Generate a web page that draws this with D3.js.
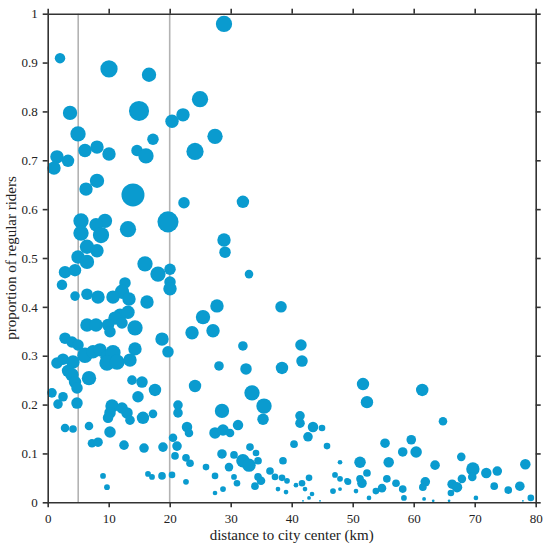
<!DOCTYPE html>
<html>
<head>
<meta charset="utf-8">
<script src="https://cdnjs.cloudflare.com/ajax/libs/d3/7.8.5/d3.min.js"></script>
<style>
  body { margin: 0; background: #fff; }
  text { font-family: "Liberation Serif", "Times New Roman", serif; fill: #222; }
  .axis path, .axis line { stroke: #333; stroke-width: 1.6px; }
  .axis text { font-size: 13px; font-family: "Liberation Serif", "Times New Roman", serif; fill: #222; }
</style>
</head>
<body>
<script>
// distance to city center (km)
const distance = [
  2.02, 10.05, 16.61, 3.66, 14.97, 4.97, 20.38, 22.18, 24.97, 17.26,
  1.52, 3.33, 1.03, 6.11, 8.08, 10.05, 14.64, 16.11, 24.15, 28.9,
  27.43, 8.08, 6.28, 13.98, 22.34, 5.46, 9.39, 7.92, 19.72, 13.16,
  5.46, 8.74, 6.44, 8.08, 4.97, 6.44, 2.84, 4.48, 2.34, 15.95,
  18.08, 20.05, 20.05, 20.05, 12.67, 12.18, 4.48, 6.44, 8.25, 10.7,
  13.33, 16.28, 32.0, 28.9, 29.07, 33.0, 27.75, 25.46, 23.66, 27.1,
  38.25, 32.0, 41.52, 11.85, 13.16, 11.03, 6.44, 7.92, 9.89, 12.18,
  14.31, 10.21, 18.74, 19.72, 2.84, 3.98, 4.97, 6.11, 7.43, 8.57,
  9.72, 10.7, 9.72, 11.36, 14.31, 13.49, 1.52, 2.51, 4.15, 3.33,
  3.98, 4.48, 6.77, 4.8, 13.82, 15.46, 17.59, 14.8, 24.15, 0.7,
  2.51, 1.69, 4.8, 10.54, 10.21, 12.18, 13.0, 13.49, 9.89, 15.62,
  17.26, 21.36, 21.36, 22.84, 23.16, 20.54, 21.2, 20.87, 22.67, 23.33,
  25.95, 2.84, 4.15, 6.77, 10.21, 7.26, 8.25, 12.51, 15.79, 18.9,
  9.07, 9.72, 16.44, 17.1, 18.74, 20.38, 22.67, 28.08, 32.51, 38.41,
  41.69, 33.49, 35.46, 35.3, 28.57, 27.43, 28.74, 29.89, 31.2, 41.36,
  41.36, 43.49, 44.97, 42.67, 40.38, 45.79, 28.57, 30.54, 33.16, 34.15,
  34.48, 32.0, 33.0, 38.57, 29.72, 27.43, 30.54, 31.03, 34.48, 34.97,
  33.98, 36.44, 37.26, 38.41, 39.23, 37.75, 39.07, 40.7, 41.69, 42.84,
  42.18, 43.33, 42.84, 47.1, 47.92, 46.77, 47.92, 49.07, 47.92, 28.74,
  27.43, 44.64, 41.85, 51.69, 52.34, 61.4, 64.8, 55.3, 59.6, 58.2,
  60.4, 67.8, 55.9, 51.2, 63.5, 69.7, 69.6, 71.9, 73.7, 78.3,
  52.34, 51.52, 55.6, 57.1, 58.2, 54.8, 53.8, 61.9, 61.5, 66.3,
  67.1, 67.9, 66.1, 73.2, 75.5, 77.4, 52.67, 58.4, 61.7, 63.2,
  65.8, 70.2, 79.2, 77.9, 49.23, 50.54, 51.2
];

// proportion of regular riders
const share = [
  0.909, 0.887, 0.875, 0.797, 0.801, 0.754, 0.78, 0.793, 0.825, 0.743,
  0.707, 0.699, 0.684, 0.72, 0.727, 0.713, 0.72, 0.709, 0.718, 0.979,
  0.749, 0.658, 0.641, 0.629, 0.613, 0.576, 0.576, 0.568, 0.574, 0.559,
  0.551, 0.547, 0.523, 0.515, 0.502, 0.492, 0.471, 0.475, 0.445, 0.488,
  0.467, 0.477, 0.451, 0.437, 0.449, 0.431, 0.422, 0.426, 0.42, 0.42,
  0.416, 0.41, 0.615, 0.537, 0.512, 0.467, 0.402, 0.379, 0.347, 0.351,
  0.4, 0.32, 0.322, 0.383, 0.389, 0.377, 0.363, 0.363, 0.363, 0.367,
  0.357, 0.349, 0.334, 0.308, 0.336, 0.328, 0.322, 0.301, 0.308, 0.312,
  0.297, 0.306, 0.285, 0.287, 0.314, 0.291, 0.285, 0.293, 0.287, 0.269,
  0.261, 0.246, 0.254, 0.234, 0.25, 0.246, 0.23, 0.216, 0.238, 0.224,
  0.216, 0.201, 0.203, 0.197, 0.183, 0.193, 0.183, 0.168, 0.173, 0.173,
  0.181, 0.199, 0.183, 0.154, 0.142, 0.132, 0.115, 0.095, 0.091, 0.08,
  0.072, 0.152, 0.15, 0.156, 0.144, 0.121, 0.123, 0.117, 0.111, 0.113,
  0.054, 0.031, 0.058, 0.052, 0.054, 0.056, 0.042, 0.279, 0.273, 0.275,
  0.289, 0.224, 0.197, 0.17, 0.187, 0.142, 0.148, 0.142, 0.158, 0.177,
  0.162, 0.154, 0.152, 0.134, 0.119, 0.115, 0.099, 0.097, 0.113, 0.101,
  0.085, 0.085, 0.076, 0.085, 0.072, 0.054, 0.052, 0.039, 0.052, 0.044,
  0.033, 0.064, 0.052, 0.05, 0.044, 0.027, 0.021, 0.035, 0.039, 0.05,
  0.027, 0.017, 0.009, 0.056, 0.048, 0.023, 0.027, 0.044, 0.082, 0.027,
  0.019, 0.003, 0.003, 0.242, 0.205, 0.23, 0.166, 0.121, 0.128, 0.103,
  0.103, 0.093, 0.082, 0.082, 0.076, 0.068, 0.052, 0.06, 0.064, 0.078,
  0.06, 0.039, 0.048, 0.039, 0.027, 0.029, 0.023, 0.042, 0.031, 0.037,
  0.031, 0.048, 0.019, 0.033, 0.025, 0.033, 0.009, 0.009, 0.007, 0.003,
  0.003, 0.009, 0.009, 0.003, 0.042, 0.023, 0.048
];

// number of riders (bubble size)
const riders = [
  30, 81, 56, 56, 110, 64, 49, 49, 72, 36,
  49, 42, 49, 49, 49, 49, 36, 64, 81, 72,
  64, 56, 49, 144, 36, 64, 56, 49, 121, 72,
  64, 72, 56, 49, 49, 56, 42, 42, 30, 64,
  64, 36, 36, 49, 36, 56, 25, 36, 49, 49,
  49, 49, 42, 49, 36, 20, 49, 56, 49, 49,
  36, 25, 36, 49, 49, 49, 49, 49, 42, 36,
  64, 36, 49, 36, 36, 36, 36, 64, 49, 49,
  49, 64, 64, 64, 49, 49, 36, 36, 49, 42,
  49, 42, 56, 36, 25, 36, 42, 36, 42, 25,
  25, 25, 36, 49, 36, 36, 36, 25, 30, 42,
  20, 25, 25, 30, 20, 20, 25, 16, 16, 16,
  12, 20, 16, 20, 36, 20, 25, 25, 25, 25,
  9, 9, 9, 9, 16, 12, 9, 25, 36, 42,
  36, 64, 64, 36, 56, 36, 36, 20, 30, 25,
  25, 30, 12, 25, 16, 12, 25, 16, 16, 12,
  16, 49, 49, 16, 20, 12, 9, 12, 16, 20,
  16, 16, 12, 12, 9, 6, 6, 6, 12, 12,
  6, 6, 4, 9, 9, 9, 4, 9, 6, 9,
  6, 1, 1, 42, 42, 42, 20, 25, 25, 25,
  36, 20, 30, 36, 25, 49, 20, 30, 25, 30,
  16, 25, 16, 16, 16, 20, 12, 25, 16, 25,
  30, 20, 12, 16, 16, 25, 6, 9, 4, 2,
  2, 6, 12, 1, 12, 6, 16
];

const xTicks = [0, 10, 20, 30, 40, 50, 60, 70, 80];
const yTicks = [0, 0.1, 0.2, 0.3, 0.4, 0.5, 0.6, 0.7, 0.8, 0.9, 1];
const refLines = [5, 20];

const data = distance.map((d, i) => ({ x: d, y: share[i], n: riders[i] }));

const W = 549, H = 550;
const m = { top: 13.7, right: 13.3, bottom: 47.7, left: 47.7 };
const w = W - m.left - m.right;
const h = H - m.top - m.bottom;

const svg = d3.select("body").append("svg")
  .attr("width", W)
  .attr("height", H);

const g = svg.append("g")
  .attr("transform", "translate(" + m.left + "," + m.top + ")");

const x = d3.scaleLinear().domain([0, 80]).range([0, w]);
const y = d3.scaleLinear().domain([0, 1]).range([h, 0]);
const r = d3.scaleSqrt().domain([0, 144]).range([0, 11.5]);

// reference lines
g.selectAll(".ref")
  .data(refLines)
  .enter()
  .append("line")
  .attr("class", "ref")
  .attr("x1", d => x(d))
  .attr("x2", d => x(d))
  .attr("y1", 0)
  .attr("y2", h)
  .attr("stroke", "#b3b3b3")
  .attr("stroke-width", 1.6);

g.selectAll("circle")
  .data(data)
  .enter()
  .append("circle")
  .attr("cx", d => x(d.x))
  .attr("cy", d => y(d.y))
  .attr("r", d => r(d.n))
  .attr("fill", "#0a9bcf");

// axes: box with outward ticks
g.append("g")
  .attr("class", "axis")
  .attr("transform", "translate(0," + h + ")")
  .call(d3.axisBottom(x).tickValues(xTicks).tickSize(5).tickSizeOuter(0).tickPadding(6));

g.append("g")
  .attr("class", "axis")
  .call(d3.axisTop(x).tickValues(xTicks).tickSize(5).tickSizeOuter(0).tickFormat(""));

g.append("g")
  .attr("class", "axis")
  .call(d3.axisLeft(y).tickValues(yTicks).tickSize(5).tickSizeOuter(0).tickPadding(5)
    .tickFormat(d => d3.format("~g")(d)));

g.append("g")
  .attr("class", "axis")
  .attr("transform", "translate(" + w + ",0)")
  .call(d3.axisRight(y).tickValues(yTicks).tickSize(5).tickSizeOuter(0).tickFormat(""));

svg.selectAll(".axis path").attr("stroke-linecap", "square");

// titles
svg.append("text")
  .attr("x", m.left + w / 2)
  .attr("y", 540)
  .attr("text-anchor", "middle")
  .style("font-size", "15px")
  .text("distance to city center (km)");

svg.append("text")
  .attr("transform", "translate(16," + (m.top + h / 2) + ") rotate(-90)")
  .attr("text-anchor", "middle")
  .style("font-size", "15px")
  .text("proportion of regular riders");
</script>
</body>
</html>
